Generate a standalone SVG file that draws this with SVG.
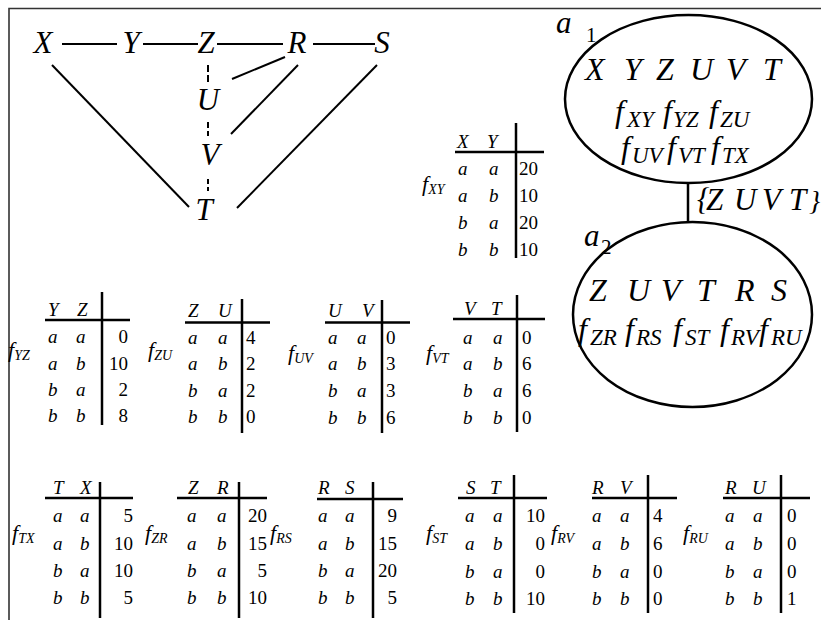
<svg xmlns="http://www.w3.org/2000/svg" width="821" height="620" viewBox="0 0 821 620" font-family="'Liberation Serif', 'DejaVu Serif', serif">
<style>
text{font-family:"Liberation Serif","DejaVu Serif",serif;fill:#000}
.i{font-style:italic}
.g{font-size:31px;font-style:italic}
.e{font-size:32px;font-style:italic}
.es{font-size:23px;font-style:italic}
.t{font-size:19px;font-style:italic}
.n{font-size:19px}
.fl{font-size:22px;font-style:italic}
.fs{font-size:14px;font-style:italic}
.ln{stroke:#000;stroke-width:2;fill:none}
.tb{stroke:#000;stroke-width:2.5;fill:none}
.el{stroke:#000;stroke-width:2.5;fill:#fff}
</style>
<rect width="821" height="620" fill="#fff"/>
<path d="M9,620 V8.5 H821" fill="none" stroke="#333" stroke-width="1.6"/>

<g id="connectors" class="ln">
<line x1="62" y1="44" x2="117" y2="44"/>
<line x1="143" y1="44" x2="198" y2="44"/>
<line x1="217" y1="44" x2="283" y2="44"/>
<line x1="313" y1="44" x2="375" y2="44"/>
<line x1="208" y1="65" x2="208" y2="83" stroke-dasharray="7,3"/>
<line x1="208" y1="122" x2="208" y2="136" stroke-dasharray="6,3"/>
<line x1="208" y1="179" x2="208" y2="191" stroke-dasharray="5,3"/>
<line x1="232" y1="79" x2="285" y2="57"/>
<line x1="231" y1="134" x2="298" y2="65"/>
<line x1="52" y1="65" x2="189" y2="207"/>
<line x1="237" y1="208" x2="377" y2="65"/>
<line x1="688" y1="183" x2="688" y2="222" stroke-width="2.5"/>
</g>

<g id="nX"><text class="g" x="43" y="53" text-anchor="middle">X</text></g>
<g id="nY"><text class="g" x="131" y="53" text-anchor="middle">Y</text></g>
<g id="nZ"><text class="g" x="206" y="53" text-anchor="middle">Z</text></g>
<g id="nR"><text class="g" x="297" y="53" text-anchor="middle">R</text></g>
<g id="nS"><text class="g" x="382" y="53" text-anchor="middle">S</text></g>
<g id="nU"><text class="g" x="208" y="110" text-anchor="middle">U</text></g>
<g id="nV"><text class="g" x="210" y="165" text-anchor="middle">V</text></g>
<g id="nT"><text class="g" x="204" y="220" text-anchor="middle">T</text></g>

<g id="a1">
<ellipse class="el" cx="688.5" cy="99" rx="123.5" ry="84"/>
<text class="g" x="556" y="33" font-size="32">a</text><text x="586" y="42" font-size="21">1</text>
<text class="e" x="585 624 656 690 726 763" y="80">XYZUVT</text>
<text class="e" y="122"><tspan x="615">f</tspan><tspan x="627" class="es" dy="5">XY</tspan><tspan x="663" dy="-5">f</tspan><tspan x="673" class="es" dy="5">YZ</tspan><tspan x="709" dy="-5">f</tspan><tspan x="720" class="es" dy="5">ZU</tspan></text>
<text class="e" y="158"><tspan x="621">f</tspan><tspan x="632" class="es" dy="5">UV</tspan><tspan x="667" dy="-5">f</tspan><tspan x="678" class="es" dy="5">VT</tspan><tspan x="711" dy="-5">f</tspan><tspan x="722" class="es" dy="5">TX</tspan></text>
</g>
<g id="sep"><text class="g" x="697 706 734 762 789" y="210" font-size="28">{ZUVT</text><text x="809" y="210" font-size="28" class="i">}</text></g>
<g id="a2">
<ellipse class="el" cx="692.5" cy="314.5" rx="119.5" ry="92.5"/>
<text class="g" x="584" y="246" font-size="32">a</text><text x="601" y="254" font-size="21">2</text>
<text class="e" x="589 627 661 697 735 771" y="301">ZUVTRS</text>
<text class="e" y="340"><tspan x="578">f</tspan><tspan x="590" class="es" dy="5">ZR</tspan><tspan x="625" dy="-5">f</tspan><tspan x="636" class="es" dy="5">RS</tspan><tspan x="673" dy="-5">f</tspan><tspan x="685" class="es" dy="5">ST</tspan><tspan x="720" dy="-5">f</tspan><tspan x="731" class="es" dy="5">RV</tspan><tspan x="759" dy="-5">f</tspan><tspan x="771" class="es" dy="5">RU</tspan></text>
</g>

<g id="tXY">
<line class="tb" x1="455" y1="152" x2="544" y2="152"/><line class="tb" x1="516" y1="123" x2="516" y2="258"/>
<text class="t" x="457 487" y="148">XY</text>
<text class="t" x="458 489" y="175">aa</text><text class="t" x="458 489" y="202">ab</text><text class="t" x="458 489" y="229">ba</text><text class="t" x="458 489" y="256">bb</text>
<text class="n" x="519" y="175">20</text><text class="n" x="519" y="202">10</text><text class="n" x="519" y="229">20</text><text class="n" x="519" y="256">10</text>
<text class="fl" x="422" y="191">f<tspan class="fs" dy="3">XY</tspan></text>
</g>
<g id="tYZ">
<line class="tb" x1="45" y1="320" x2="130" y2="320"/><line class="tb" x1="102" y1="292" x2="102" y2="425"/>
<text class="t" x="48 77" y="316">YZ</text>
<text class="t" x="48 76" y="343">aa</text><text class="t" x="48 76" y="370">ab</text><text class="t" x="48 76" y="396">ba</text><text class="t" x="48 76" y="422">bb</text>
<g class="n" text-anchor="end"><text x="128" y="343">0</text><text x="128" y="370">10</text><text x="128" y="396">2</text><text x="128" y="422">8</text></g>
<text class="fl" x="8" y="357">f<tspan class="fs" dy="3">YZ</tspan></text>
</g>
<g id="tZU">
<line class="tb" x1="185" y1="322.5" x2="270" y2="322.5"/><line class="tb" x1="242" y1="299" x2="242" y2="433"/>
<text class="t" x="188 218" y="317">ZU</text>
<text class="t" x="188 218" y="344">aa</text><text class="t" x="188 218" y="370">ab</text><text class="t" x="188 218" y="397">ba</text><text class="t" x="188 218" y="423">bb</text>
<text class="n" x="246" y="344">4</text><text class="n" x="246" y="370">2</text><text class="n" x="246" y="397">2</text><text class="n" x="246" y="423">0</text>
<text class="fl" x="148" y="357">f<tspan class="fs" dy="3">ZU</tspan></text>
</g>
<g id="tUV">
<line class="tb" x1="325" y1="322.5" x2="410" y2="322.5"/><line class="tb" x1="382" y1="300" x2="382" y2="433"/>
<text class="t" x="328 362" y="317">UV</text>
<text class="t" x="328 357" y="344">aa</text><text class="t" x="328 357" y="370">ab</text><text class="t" x="328 357" y="397">ba</text><text class="t" x="328 357" y="424">bb</text>
<text class="n" x="386" y="344">0</text><text class="n" x="386" y="370">3</text><text class="n" x="386" y="397">3</text><text class="n" x="386" y="424">6</text>
<text class="fl" x="288" y="360">f<tspan class="fs" dy="3">UV</tspan></text>
</g>
<g id="tVT">
<line class="tb" x1="453" y1="319" x2="545" y2="319"/><line class="tb" x1="517" y1="295" x2="517" y2="432"/>
<text class="t" x="464 491" y="315">VT</text>
<text class="t" x="463 493" y="344">aa</text><text class="t" x="463 493" y="370">ab</text><text class="t" x="463 493" y="397">ba</text><text class="t" x="463 493" y="424">bb</text>
<text class="n" x="522" y="344">0</text><text class="n" x="522" y="370">6</text><text class="n" x="522" y="397">6</text><text class="n" x="522" y="424">0</text>
<text class="fl" x="426" y="360">f<tspan class="fs" dy="3">VT</tspan></text>
</g>
<g id="tTX">
<line class="tb" x1="45" y1="498" x2="133" y2="498"/><line class="tb" x1="100" y1="482" x2="100" y2="618"/>
<text class="t" x="53 80" y="494">TX</text>
<text class="t" x="53 80" y="522">aa</text><text class="t" x="53 80" y="550">ab</text><text class="t" x="53 80" y="577">ba</text><text class="t" x="53 80" y="604">bb</text>
<g class="n" text-anchor="end"><text x="133" y="522">5</text><text x="133" y="550">10</text><text x="133" y="577">10</text><text x="133" y="604">5</text></g>
<text class="fl" x="12" y="540">f<tspan class="fs" dy="3">TX</tspan></text>
</g>
<g id="tZR">
<line class="tb" x1="177" y1="498" x2="267" y2="498"/><line class="tb" x1="239" y1="482" x2="239" y2="618"/>
<text class="t" x="188 217" y="494">ZR</text>
<text class="t" x="187 217" y="522">aa</text><text class="t" x="187 217" y="550">ab</text><text class="t" x="187 217" y="577">ba</text><text class="t" x="187 217" y="604">bb</text>
<g class="n" text-anchor="end"><text x="267" y="522">20</text><text x="267" y="550">15</text><text x="267" y="577">5</text><text x="267" y="604">10</text></g>
<text class="fl" x="145" y="540">f<tspan class="fs" dy="3">ZR</tspan></text>
</g>
<g id="tRS">
<line class="tb" x1="317" y1="499" x2="403" y2="499"/><line class="tb" x1="373" y1="482" x2="373" y2="618"/>
<text class="t" x="318 345" y="494">RS</text>
<text class="t" x="318 345" y="522">aa</text><text class="t" x="318 345" y="550">ab</text><text class="t" x="318 345" y="577">ba</text><text class="t" x="318 345" y="604">bb</text>
<g class="n" text-anchor="end"><text x="397" y="522">9</text><text x="397" y="550">15</text><text x="397" y="577">20</text><text x="397" y="604">5</text></g>
<text class="fl" x="270" y="540">f<tspan class="fs" dy="3">RS</tspan></text>
</g>
<g id="tST">
<line class="tb" x1="458" y1="498" x2="547" y2="498"/><line class="tb" x1="514" y1="475" x2="514" y2="613"/>
<text class="t" x="466 490" y="494">ST</text>
<text class="t" x="465 493" y="522">aa</text><text class="t" x="465 493" y="550">ab</text><text class="t" x="465 493" y="578">ba</text><text class="t" x="465 493" y="605">bb</text>
<g class="n" text-anchor="end"><text x="545" y="522">10</text><text x="545" y="550">0</text><text x="545" y="578">0</text><text x="545" y="605">10</text></g>
<text class="fl" x="426" y="540">f<tspan class="fs" dy="3">ST</tspan></text>
</g>
<g id="tRV">
<line class="tb" x1="592" y1="498" x2="677" y2="498"/><line class="tb" x1="648" y1="475" x2="648" y2="613"/>
<text class="t" x="592 620" y="494">RV</text>
<text class="t" x="592 620" y="522">aa</text><text class="t" x="592 620" y="550">ab</text><text class="t" x="592 620" y="578">ba</text><text class="t" x="592 620" y="605">bb</text>
<text class="n" x="653" y="522">4</text><text class="n" x="653" y="550">6</text><text class="n" x="653" y="578">0</text><text class="n" x="653" y="605">0</text>
<text class="fl" x="551" y="540">f<tspan class="fs" dy="3">RV</tspan></text>
</g>
<g id="tRU">
<line class="tb" x1="723" y1="498" x2="810" y2="498"/><line class="tb" x1="781" y1="475" x2="781" y2="613"/>
<text class="t" x="725 752" y="494">RU</text>
<text class="t" x="725 753" y="522">aa</text><text class="t" x="725 753" y="550">ab</text><text class="t" x="725 753" y="578">ba</text><text class="t" x="725 753" y="605">bb</text>
<text class="n" x="787" y="522">0</text><text class="n" x="787" y="550">0</text><text class="n" x="787" y="578">0</text><text class="n" x="787" y="605">1</text>
<text class="fl" x="683" y="540">f<tspan class="fs" dy="3">RU</tspan></text>
</g>
</svg>
